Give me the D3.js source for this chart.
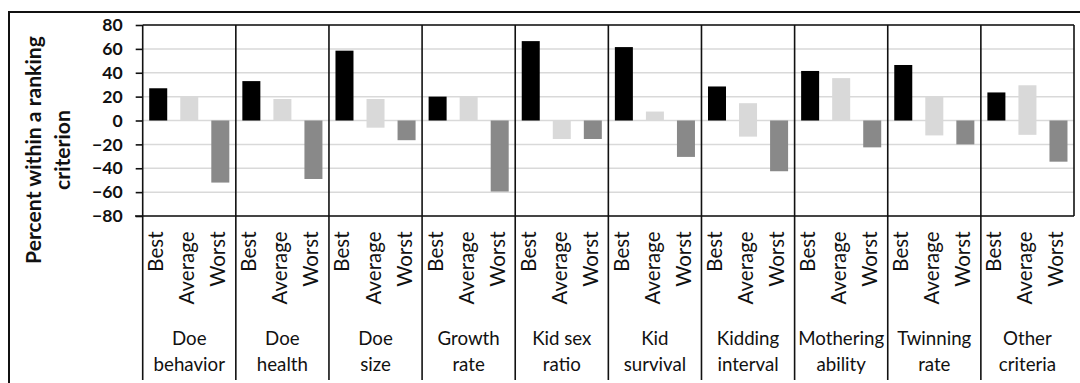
<!DOCTYPE html>
<html>
<head>
<meta charset="utf-8">
<script src="https://cdn.jsdelivr.net/npm/d3@7"></script>
<style>
  html, body { margin: 0; padding: 0; background: #fff; }
  svg { display: block; font-family: Lato, "Open Sans", sans-serif; }
</style>
</head>
<body>
<svg id="chart" width="1080" height="383"></svg>
<script>
// ---- data ----
const categories = ["Doe behavior", "Doe health", "Doe size", "Growth rate", "Kid sex ratio",
  "Kid survival", "Kidding interval", "Mothering ability", "Twinning rate", "Other criteria"];
const categoryLines = [["Doe", "behavior"], ["Doe", "health"], ["Doe", "size"], ["Growth", "rate"],
  ["Kid sex", "ratio"], ["Kid", "survival"], ["Kidding", "interval"], ["Mothering", "ability"],
  ["Twinning", "rate"], ["Other", "criteria"]];
const rankLabels = ["Best", "Average", "Worst"];
const bestValues = [27, 33, 58.5, 20, 66.5, 61.5, 28.5, 41.5, 46.5, 23.5];
const averagePositive = [20, 18, 18, 20, 0, 7.5, 14.5, 35.5, 20, 29.5];
const averageNegative = [0, 0, -6, 0, -15.5, 0, -13.5, 0, -12.5, -12];
const worstValues = [-52, -49, -16.5, -59.5, -15.5, -30.5, -42.5, -22.5, -20, -34.5];
const yTicks = [-80, -60, -40, -20, 0, 20, 40, 60, 80];
const yTitleLines = ["Percent within a ranking", "criterion"];

// ---- layout ----
const svg = d3.select("#chart");
const plot = { left: 142.7, right: 1074, top: 25, bottom: 216 };
const colors = { Best: "#000000", Average: "#d9d9d9", Worst: "#898989" };

const x = d3.scaleBand().domain(categories).range([plot.left, plot.right]).padding(0);
const xi = d3.scaleBand().domain(rankLabels).range([0, x.bandwidth()])
  .paddingInner(0.42).paddingOuter(0.21);
const y = d3.scaleLinear().domain([-80, 80]).range([plot.bottom, plot.top]);

function fitSize(text, target, weight) {
  const t = svg.append("text").attr("font-size", 20).attr("font-weight", weight).text(text);
  const w = t.node().getComputedTextLength();
  t.remove();
  return 20 * target / w;
}

svg.append("rect").attr("width", 1080).attr("height", 383).attr("fill", "#fff");

// outer border
svg.append("rect").attr("x", 9).attr("y", 12).attr("width", 1200).attr("height", 500)
  .attr("fill", "none").attr("stroke", "#111").attr("stroke-width", 2);

// gridlines
svg.append("g").selectAll("line").data(yTicks).join("line")
  .attr("x1", plot.left).attr("x2", plot.right)
  .attr("y1", d => y(d)).attr("y2", d => y(d))
  .attr("stroke", "#d9d9d9").attr("stroke-width", 1.5);

// bars
const rows = categories.map((c, i) => ({ c, i }));
const barG = svg.append("g");
function bars(cls, rank, v0, v1) {
  barG.selectAll("rect." + cls).data(rows).join("rect").attr("class", cls)
    .attr("x", d => x(d.c) + xi(rank)).attr("width", xi.bandwidth())
    .attr("y", d => y(Math.max(v0(d.i), v1(d.i))))
    .attr("height", d => Math.abs(y(v0(d.i)) - y(v1(d.i))))
    .attr("fill", colors[rank]);
}
bars("best", "Best", () => 0, i => bestValues[i]);
bars("avgp", "Average", () => 0, i => averagePositive[i]);
bars("avgn", "Average", () => 0, i => averageNegative[i]);
bars("worst", "Worst", () => 0, i => worstValues[i]);

// plot frame (top, right) and group dividers extending below axis
svg.append("line").attr("x1", plot.left).attr("x2", plot.right).attr("y1", plot.top).attr("y2", plot.top)
  .attr("stroke", "#111").attr("stroke-width", 1.6);
const bounds = categories.map(c => x(c)).concat([plot.right]);
svg.append("g").selectAll("line").data(bounds).join("line")
  .attr("x1", d => d).attr("x2", d => d)
  .attr("y1", plot.top).attr("y2", (d, i) => i === bounds.length - 1 ? plot.bottom : 380)
  .attr("stroke", "#111").attr("stroke-width", 1.6);

// y axis
const tickSize = fitSize("-80", 27, 700);
const yAxis = d3.axisLeft(y).tickValues(yTicks).tickSize(7).tickPadding(13).tickFormat(d3.format("d"));
const ya = svg.append("g").attr("transform", `translate(${plot.left},0)`).call(yAxis);
ya.select(".domain").remove();
ya.selectAll(".tick line").attr("stroke", "#111").attr("stroke-width", 1.6);
ya.selectAll(".tick text").attr("font-family", "Lato, 'Open Sans', sans-serif")
  .attr("font-size", tickSize).attr("font-weight", 700).attr("fill", "#111");

// x axis line
svg.append("line").attr("x1", 135).attr("x2", plot.right).attr("y1", plot.bottom).attr("y2", plot.bottom)
  .attr("stroke", "#111").attr("stroke-width", 1.6);

// rank labels (rotated)
const rankSize = fitSize("Average", 73, 400);
const rankG = svg.append("g");
categories.forEach(c => {
  rankLabels.forEach(r => {
    const cx = x(c) + xi(r) + xi.bandwidth() / 2 - 3;
    rankG.append("text")
      .attr("transform", `translate(${cx},231.5) rotate(-90)`)
      .attr("text-anchor", "end").attr("dominant-baseline", "central")
      .attr("font-size", rankSize).attr("fill", "#111").text(r);
  });
});

// category labels
const catSize = fitSize("Mothering", 86, 400);
const catG = svg.append("g");
categories.forEach((c, i) => {
  categoryLines[i].forEach((line, k) => {
    catG.append("text").attr("x", x(c) + x.bandwidth() / 2).attr("y", 338 + k * 26)
      .attr("text-anchor", "middle").attr("dominant-baseline", "central")
      .attr("font-size", catSize).attr("fill", "#111").text(line);
  });
});

// y title
const titleSize = fitSize(yTitleLines[0], 228, 700);
[33, 62].forEach((tx, k) => {
  svg.append("text").attr("transform", `translate(${tx},150) rotate(-90)`)
    .attr("text-anchor", "middle").attr("dominant-baseline", "central")
    .attr("font-size", titleSize).attr("font-weight", 700).attr("fill", "#111")
    .text(yTitleLines[k]);
});
</script>
</body>
</html>
